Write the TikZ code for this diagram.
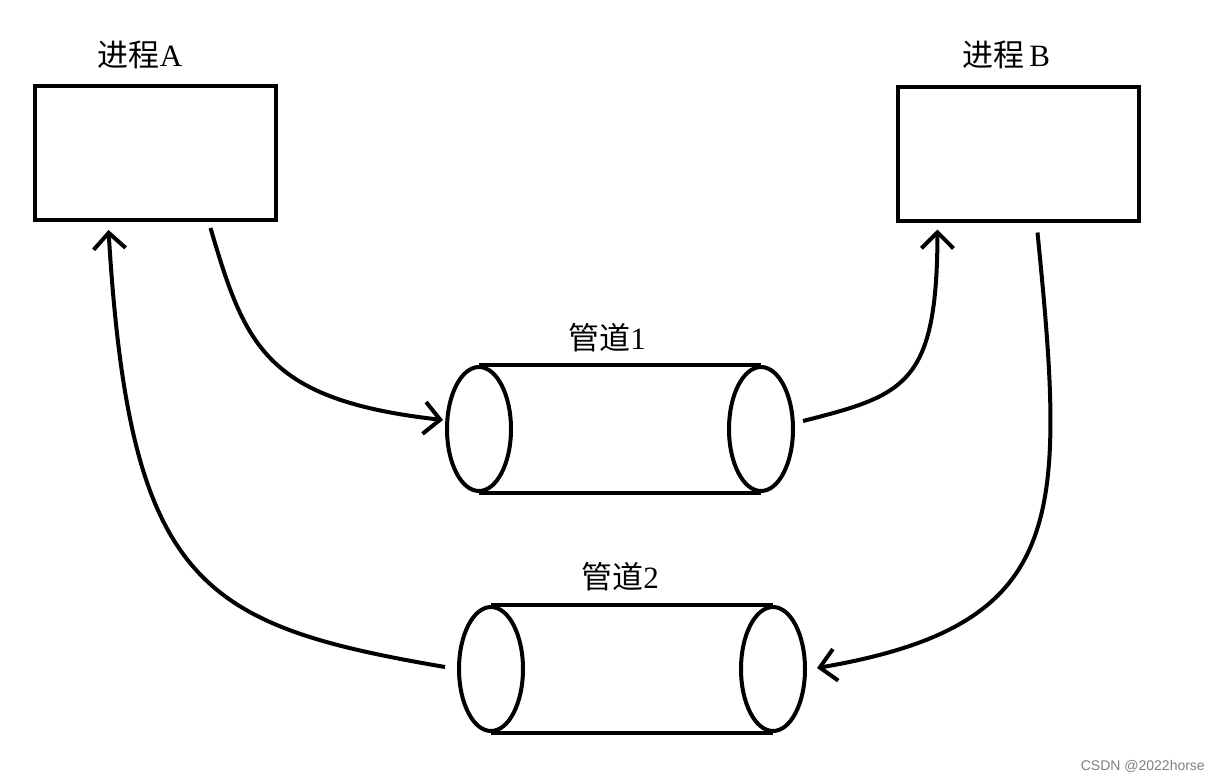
\documentclass[tikz,border=0pt]{standalone}
\usepackage{fontspec}
\setmainfont{Liberation Serif}
\newfontfamily\cjk{Noto Sans CJK SC}
\usetikzlibrary{arrows.meta,shapes.geometric,calc}

\tikzset{
  procbox/.style={draw, line width=4pt, minimum width=241pt, minimum height=134pt, inner sep=0pt},
  pipeend/.style={draw, ellipse, line width=4pt, minimum width=64pt, minimum height=124pt, inner sep=0pt},
  tag/.style={font=\fontsize{31}{34}\selectfont, inner sep=0pt},
  flow/.style={line width=4pt, -{Straight Barb[length=16pt,width=32pt,line width=4pt]}}
}

\begin{document}
\begin{tikzpicture}[x=1pt,y=-1pt]
\useasboundingbox (0,0) rectangle (1219,782);
% processes
\node [procbox] (procA) at (155.5,153) {};
\node [procbox] (procB) at (1018.5,153.5) {};
\node [tag] (labA) at (140,55) {{\cjk 进程}A};
\node [tag] (labB) at (1006,55) {{\cjk 进程}\,B};
% pipe 1
\node [pipeend] (p1l) at (479,429) {};
\node [pipeend] (p1r) at (761,429) {};
\draw [line width=4pt] (p1l.north) -- (p1r.north);
\draw [line width=4pt] (p1l.south) -- (p1r.south);
\node [tag] (lab1) at (607,338) {{\cjk 管道}1};
% pipe 2
\node [pipeend] (p2l) at (491,669) {};
\node [pipeend] (p2r) at (773,669) {};
\draw [line width=4pt] (p2l.north) -- (p2r.north);
\draw [line width=4pt] (p2l.south) -- (p2r.south);
\node [tag] (lab2) at (620,577) {{\cjk 管道}2};
% flows
\draw [flow] ($(procA.south)+(55,6)$) .. controls (245,345) and (265,400) .. ($(p1l.west)+(-2,-9)$);
\draw [flow] ($(p1r.east)+(8,-8)$) .. controls (905,395) and (937,385) .. ($(procB.south)+(-81,7)$);
\draw [flow] ($(procB.south)+(19,10)$) .. controls (1066,520) and (1068,625) .. ($(p2r.east)+(10,-1)$);
\draw [flow] ($(p2l.west)+(-12,-2)$) .. controls (200,625) and (130,585) .. ($(procA.south)+(-47,8)$);
% watermark
\node [font=\fontsize{14}{16}\selectfont\fontspec{Liberation Sans}, text=black!50, anchor=east, inner sep=0pt] (mark) at (1205,766) {CSDN @2022horse};
\end{tikzpicture}
\end{document}
